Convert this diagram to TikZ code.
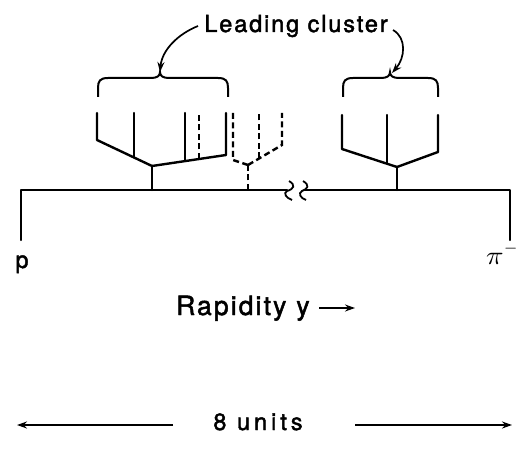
\documentclass[tikz,border=0pt]{standalone}
\usepackage{fontspec}
\setmainfont{TeX Gyre Heros}
\newfontfamily\lettering[LetterSpace=8,FakeBold=1.8]{TeX Gyre Heros}
\newfontfamily\widelettering[LetterSpace=17,FakeBold=1.8]{TeX Gyre Heros}
\usetikzlibrary{arrows.meta}
\tikzset{
  line/.style={line width=2.4pt, line cap=round, line join=round},
  ghost/.style={line width=2.4pt, dash pattern=on 6pt off 3.5pt},
  txt/.style={font={\lettering\fontsize{23.5}{28}\selectfont}, inner sep=0pt},
  bigtxt/.style={font={\lettering\fontsize{26.5}{32}\selectfont}, inner sep=0pt},
  widetxt/.style={font={\widelettering\fontsize{23.5}{28}\selectfont}, inner sep=0pt},
  pointer/.style={line width=1.7pt, -{Stealth[length=10pt,width=7pt]}},
  scale arrow/.style={line width=1.7pt, -{Stealth[length=10pt,width=7pt]}},
}
\begin{document}
\begin{tikzpicture}[x=1pt, y=-1pt]
\useasboundingbox (0,0) rectangle (521,454);

% ---- beam line with break ----
\coordinate (pbot) at (21,240);
\coordinate (ptop) at (21,190);
\coordinate (brkL) at (287,190);
\coordinate (brkR) at (305,190);
\coordinate (ptop2) at (510,190);
\coordinate (pbot2) at (510,240);
\draw[line] (pbot) -- (ptop) -- (brkL);
\draw[line] (brkR) -- (ptop2) -- (pbot2);
% break marks
\draw[line width=1.8pt] (289,181) .. controls (296,185) and (294,189) .. (287,191)
      .. controls (283,193) and (286,198) .. (292,200);
\draw[line width=1.8pt] (303,181) .. controls (310,185) and (308,189) .. (302,191)
      .. controls (298,193) and (300,198) .. (306,200);

% ---- left (leading) cluster ----
\coordinate (L0) at (152,190);
\coordinate (LJ) at (152,166);
\coordinate (LA) at (97,140);   \coordinate (LAt) at (97,113);
\coordinate (LB) at (134,157.5);\coordinate (LBt) at (134,113);
\coordinate (LC) at (226,155);  \coordinate (LCt) at (226,113);
\coordinate (LD) at (185,161);  \coordinate (LDt) at (185,113);
\coordinate (LE) at (199,159);  \coordinate (LEt) at (199,113);
\draw[line] (L0) -- (LJ);
\draw[line] (LJ) -- (LA) -- (LAt);
\draw[line] (LJ) -- (LC) -- (LCt);
\draw[line] (LB) -- (LBt);
\draw[line] (LD) -- (LDt);
\draw[ghost] (LE) -- (LEt);

% ---- dashed cluster ----
\coordinate (D0) at (248,190);
\coordinate (DJ) at (248,165);
\coordinate (DA) at (233,160);  \coordinate (DAt) at (233,113);
\coordinate (DC) at (282,145);  \coordinate (DCt) at (282,113);
\coordinate (DB) at (259,158.5);\coordinate (DBt) at (259,113);
\draw[ghost] (D0) -- (DJ);
\draw[ghost] (DJ) -- (DA) -- (DAt);
\draw[ghost] (DJ) -- (DC) -- (DCt);
\draw[ghost] (DB) -- (DBt);

% ---- right cluster ----
\coordinate (R0) at (397,190);
\coordinate (RJ) at (397,167);
\coordinate (RA) at (342,149);  \coordinate (RAt) at (342,115);
\coordinate (RB) at (387,163.5);\coordinate (RBt) at (387,115);
\coordinate (RC) at (438,152);  \coordinate (RCt) at (438,115);
\draw[line] (R0) -- (RJ);
\draw[line] (RJ) -- (RA) -- (RAt);
\draw[line] (RJ) -- (RC) -- (RCt);
\draw[line] (RB) -- (RBt);

% ---- braces ----
\coordinate (tipL) at (160,72);
\coordinate (tipR) at (390,72);
\draw[line width=2pt] (98,97) -- (98,88) .. controls (98,81) and (100,78) .. (108,78)
  -- (151,78) .. controls (157,78) and (160,76) .. (tipL)
  .. controls (160,76) and (163,78) .. (169,78) -- (218,78)
  .. controls (226,78) and (228,81) .. (228,88) -- (228,97);
\draw[line width=2pt] (343,97) -- (343,88) .. controls (343,81) and (345,78) .. (353,78)
  -- (381,78) .. controls (387,78) and (390,76) .. (tipR)
  .. controls (390,76) and (393,78) .. (399,78) -- (428,78)
  .. controls (436,78) and (438,81) .. (438,88) -- (438,97);

% ---- labels ----
\node[txt, anchor=base] (lead) at (296,32) {Leading cluster};
\coordinate (sL) at (198,26);
\coordinate (sR) at (393,30);
\draw[pointer] (sL) .. controls (178,34) and (162,50) .. (tipL);
\draw[pointer] (sR) .. controls (407,38) and (405,58) .. (392,73);

\node[txt, anchor=base] (pp) at (22,268) {p};
\node[anchor=base west, inner sep=0pt] (pim) at (486,264)
  {\scalebox{2.9}[2.6]{$\pi$}\raisebox{4pt}{\scalebox{2.2}{$^{-}$}}};

\node[bigtxt, anchor=base west] (rap) at (176,315) {Rapidity\hspace{10pt}y};
\coordinate (raS) at (319,308);
\coordinate (raE) at (355,308);
\draw[scale arrow] (raS) -- (raE);

\node[widetxt, anchor=base] (units) at (258,430) {8\ units};
\coordinate (uL0) at (173,425); \coordinate (uL1) at (17,425);
\coordinate (uR0) at (355,425); \coordinate (uR1) at (512,425);
\draw[scale arrow] (uL0) -- (uL1);
\draw[scale arrow] (uR0) -- (uR1);
\end{tikzpicture}
\end{document}
